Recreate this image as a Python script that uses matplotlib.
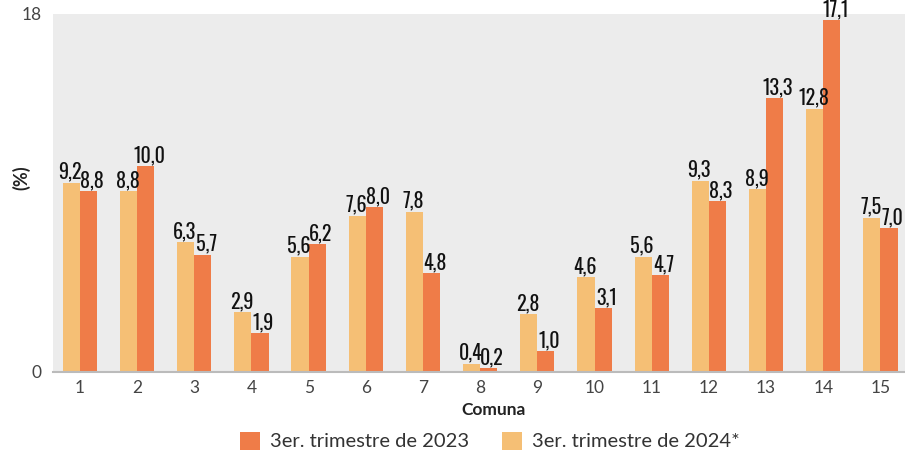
import matplotlib
matplotlib.use("Agg")
import matplotlib.pyplot as plt
import numpy as np
from matplotlib.patches import Patch

# Data
comunas = [str(i) for i in range(1, 16)]
trim_2023 = [8.8, 10.0, 5.7, 1.9, 6.2, 8.0, 4.8, 0.2, 1.0, 3.1, 4.7, 8.3, 13.3, 17.1, 7.0]
trim_2024 = [9.2, 8.8, 6.3, 2.9, 5.6, 7.6, 7.8, 0.4, 2.8, 4.6, 5.6, 9.3, 8.9, 12.8, 7.5]
label_2023 = "3er. trimestre de 2023"
label_2024 = "3er. trimestre de 2024*"
ytick_labels = ["0", "18"]

color_2023 = "#EF7C48"
color_2024 = "#F5BF75"
bg_color = "#ECECEC"

plt.rcParams["font.family"] = ["Lato", "DejaVu Sans"]

W, H = 905, 457
fig = plt.figure(figsize=(W / 100, H / 100), dpi=100)
ax = fig.add_axes([53 / W, (H - 372) / H, (905 - 53) / W, (372 - 14) / H])
ax.set_facecolor(bg_color)

x = np.arange(1, len(comunas) + 1)
bw = 0.3
b24 = ax.bar(x - bw / 2, trim_2024, width=bw, color=color_2024, zorder=2)
b23 = ax.bar(x + bw / 2, trim_2023, width=bw, color=color_2023, zorder=2)

lab_font = dict(family=["Oswald", "Roboto Condensed", "IBM Plex Sans Condensed", "DejaVu Sans"],
                weight="bold", fontsize=14.5, color="#111111")

def fmt(v):
    return f"{v:.1f}".replace(".", ",")

# dark-bar labels sit a little to the right, as in the original
for bars, vals, dx in ((b24, trim_2024, -1), (b23, trim_2023, 3.5)):
    for rect, v in zip(bars, vals):
        ax.annotate(fmt(v), (rect.get_x() + rect.get_width() / 2, v),
                    xytext=(dx, 1), textcoords="offset pixels",
                    ha="center", va="bottom", annotation_clip=False, **lab_font)

ymax = 17.4
ax.set_xlim(0.53, 15.43)
ax.set_ylim(0, ymax)
ax.set_xticks(x)
ax.set_xticklabels(comunas)
ax.set_yticks([0, ymax])
ax.set_yticklabels(ytick_labels)
ax.tick_params(axis="both", length=0, labelsize=12.5, labelcolor="#444444")
ax.tick_params(axis="x", pad=6)
ax.tick_params(axis="y", pad=8)

for side in ("top", "right", "left"):
    ax.spines[side].set_visible(False)
ax.spines["bottom"].set_color("#BBBBBB")
ax.spines["bottom"].set_linewidth(1.5)

fig.text(494 / W, 1 - 410 / H, "Comuna", ha="center", va="center",
         fontsize=12.5, weight="bold", color="#222222")
fig.text(21 / W, 1 - 177.5 / H, "(%)", ha="center", va="center", rotation=90,
         fontsize=13, weight="bold", color="#222222")

handles = [Patch(facecolor=color_2023, label=label_2023),
           Patch(facecolor=color_2024, label=label_2024)]
fig.legend(handles=handles, loc="center", bbox_to_anchor=(490 / W, 1 - 441 / H),
           ncol=2, frameon=False, fontsize=14.5, handlelength=1.0, handleheight=1.0,
           handletextpad=0.5, columnspacing=1.6, labelcolor="#333333")

fig.savefig("out.png", dpi=100, facecolor="white")
